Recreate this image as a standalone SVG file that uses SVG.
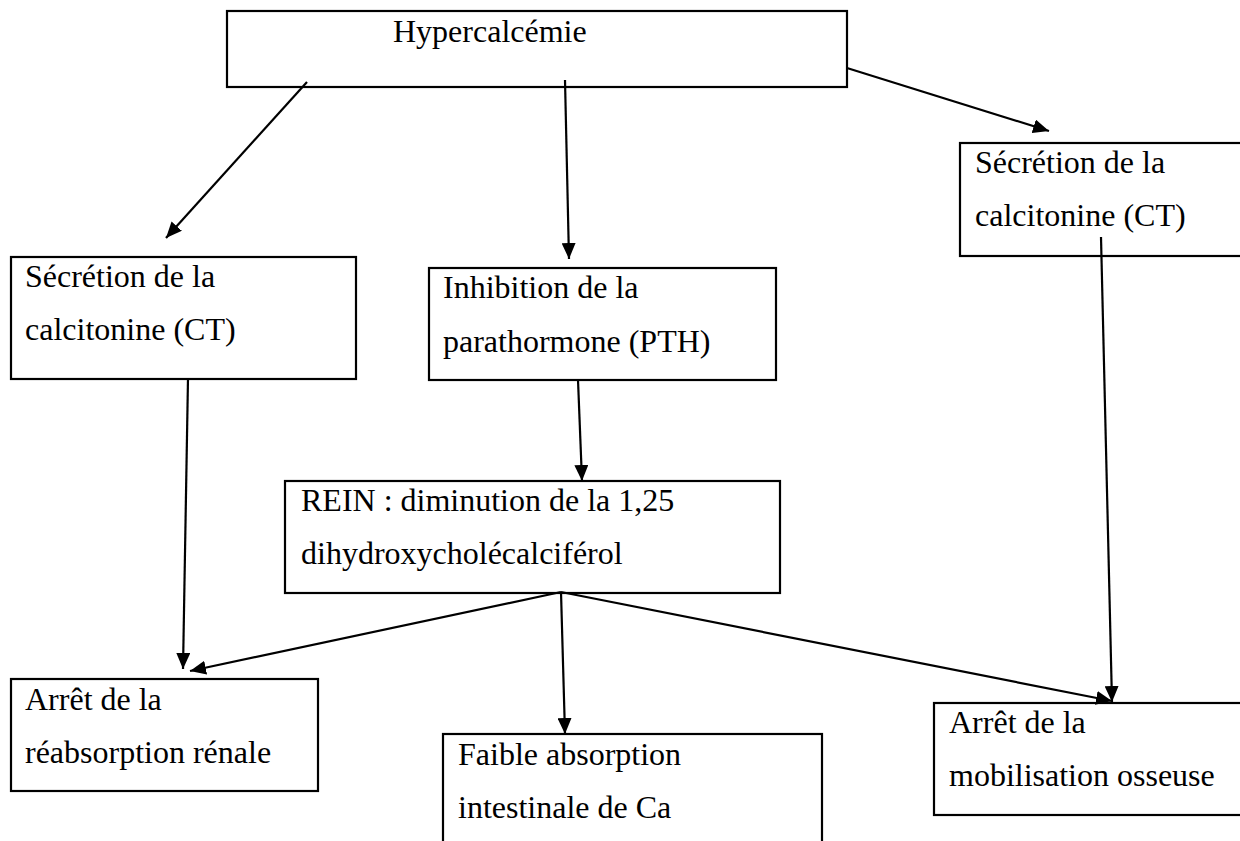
<svg xmlns="http://www.w3.org/2000/svg" width="1240" height="841" viewBox="0 0 1240 841">
<style>
.box{fill:#fff;stroke:#000;stroke-width:2.2}
.t{font-family:"Liberation Serif","Times New Roman",serif;font-size:32px;fill:#000}
.c{stroke:#000;stroke-width:2.2;fill:none;marker-end:url(#ah)}
</style>
<defs>
<marker id="ah" markerUnits="userSpaceOnUse" markerWidth="18" markerHeight="14" refX="16" refY="7" orient="auto">
<path d="M0,0 L16,7 L0,14 z" fill="#000"/>
</marker>
</defs>
<rect width="1240" height="841" fill="#fff"/>
<g id="n-hyper"><rect class="box" x="227" y="11" width="620" height="76"/><text class="t" x="393" y="42">Hypercalcémie</text></g>
<g id="n-ct-left"><rect class="box" x="11" y="257" width="345" height="122"/><text class="t" x="25" y="287">Sécrétion de la</text><text class="t" x="25" y="340">calcitonine (CT)</text></g>
<g id="n-pth"><rect class="box" x="429" y="268" width="347" height="112"/><text class="t" x="443" y="298">Inhibition de la</text><text class="t" x="443" y="352">parathormone (PTH)</text></g>
<g id="n-ct-right"><rect class="box" x="960" y="143" width="290" height="113"/><text class="t" x="975" y="173">Sécrétion de la</text><text class="t" x="975" y="226">calcitonine (CT)</text></g>
<g id="n-rein"><rect class="box" x="285" y="481" width="495" height="112"/><text class="t" x="301" y="511">REIN : diminution de la 1,25</text><text class="t" x="301" y="564">dihydroxycholécalciférol</text></g>
<g id="n-renale"><rect class="box" x="11" y="679" width="307" height="112"/><text class="t" x="25" y="710">Arrêt de la</text><text class="t" x="25" y="763">réabsorption rénale</text></g>
<g id="n-intestin"><rect class="box" x="443" y="734" width="379" height="120"/><text class="t" x="458" y="765">Faible absorption</text><text class="t" x="458" y="818">intestinale de Ca</text></g>
<g id="n-osseuse"><rect class="box" x="934" y="703" width="316" height="112"/><text class="t" x="949" y="733">Arrêt de la</text><text class="t" x="949" y="786">mobilisation osseuse</text></g>
<g id="connectors">
<line class="c" x1="307" y1="82" x2="166" y2="238"/>
<line class="c" x1="565" y1="80" x2="569" y2="259"/>
<line class="c" x1="847" y1="68" x2="1049" y2="131"/>
<line class="c" x1="188" y1="378" x2="183" y2="669"/>
<line class="c" x1="578" y1="380" x2="582" y2="481"/>
<line class="c" x1="1101" y1="237" x2="1112" y2="702"/>
<line class="c" x1="561" y1="592" x2="190" y2="671"/>
<line class="c" x1="561" y1="592" x2="565" y2="734"/>
<line class="c" x1="561" y1="592" x2="1112" y2="701"/>
</g>
</svg>
